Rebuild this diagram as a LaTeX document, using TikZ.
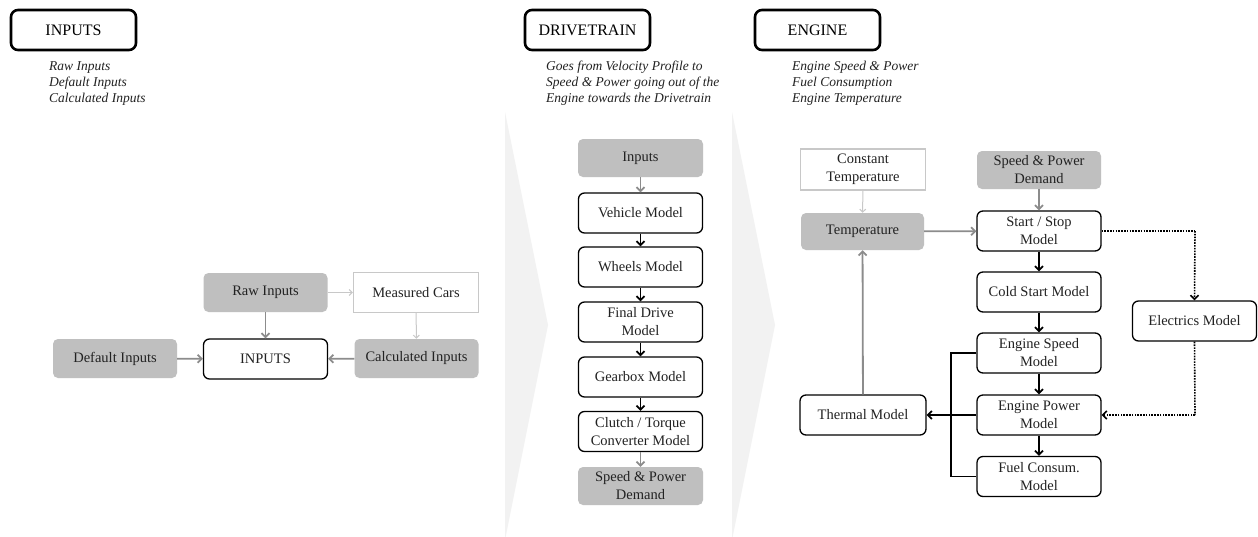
\documentclass[tikz,border=0pt]{standalone}
\usepackage{fontspec}
\setmainfont{Liberation Serif}
\usetikzlibrary{arrows.meta}
\definecolor{boxgrey}{HTML}{BFBFBF}
\definecolor{arrgrey}{HTML}{8C8C8C}
\definecolor{lightline}{HTML}{C8C8C8}
\definecolor{chev}{HTML}{F2F2F2}
\definecolor{txt}{HTML}{222222}
\begin{document}
\begin{tikzpicture}[x=1pt,y=-1pt,
  hdr/.style={draw=black,line width=2.6pt,rounded corners=7pt,minimum width=125pt,minimum height=40pt,inner sep=0pt,font=\fontsize{16}{18}\selectfont,text=black},
  note/.style={anchor=north west,inner sep=0pt,align=left,font=\fontsize{13.5}{16}\selectfont\itshape,text=txt},
  base/.style={minimum width=124pt,minimum height=39pt,inner sep=0pt,align=center,font=\fontsize{14.5}{18}\selectfont,text=txt},
  gbox/.style={base,fill=boxgrey,rounded corners=5pt},
  wbox/.style={base,draw=black,fill=white,line width=1.3pt,rounded corners=6pt,minimum height=40pt},
  lbox/.style={base,draw=lightline,fill=white,line width=1.2pt,minimum width=125pt,minimum height=40pt},
  garr/.style={draw=arrgrey,line width=1.8pt,-{Straight Barb[length=4pt,width=8pt]}},
  larr/.style={draw=lightline,line width=1pt,-{Straight Barb[length=3pt,width=6pt]}},
  barr/.style={draw=black,line width=1.8pt,-{Straight Barb[length=4pt,width=8pt]}},
  bline/.style={draw=black,line width=1.8pt},
  darr/.style={draw=black,line width=1.6pt,dash pattern=on 1.6pt off 1.2pt,-{Straight Barb[length=4pt,width=8pt]}},
  dline/.style={draw=black,line width=1.6pt,dash pattern=on 1.6pt off 1.2pt}
]
\useasboundingbox[fill=white] (0,0) rectangle (1258,536);
% chevrons
\fill[chev] (505,112) -- (548,325) -- (505,540) -- cycle;
\fill[chev] (732,112) -- (775,325) -- (732,540) -- cycle;

% headers
\node[hdr] (h1) at (73.5,30) {INPUTS};
\node[hdr] (h2) at (587.5,30) {DRIVETRAIN};
\node[hdr] (h3) at (817.5,30) {ENGINE};
\node[note] (n1) at (49,61) {Raw Inputs\\Default Inputs\\Calculated Inputs};
\node[note] (n2) at (546,61) {Goes from Velocity Profile to\\Speed \& Power going out of the\\Engine towards the Drivetrain};
\node[note] (n3) at (792,61) {Engine Speed \& Power\\Fuel Consumption\\Engine Temperature};

% inputs section
\node[gbox] (raw) at (265.5,292.5) {Raw Inputs};
\node[lbox] (meas) at (416,292.5) {Measured Cars};
\node[gbox] (def) at (115,358.5) {Default Inputs};
\node[wbox] (inp) at (265.5,359) {INPUTS};
\node[gbox] (calc) at (416.5,358.5) {Calculated Inputs};
\draw[larr] (raw) -- (meas);
\draw[larr] (meas) -- (calc);
\draw[garr] (raw) -- (inp);
\draw[garr] (def) -- (inp);
\draw[garr] (calc) -- (inp);

% drivetrain section
\node[gbox,minimum width=125pt,minimum height=38pt] (dIn) at (640.5,158) {Inputs};
\node[wbox] (veh) at (640.5,213) {Vehicle Model};
\node[wbox] (whl) at (640.5,267) {Wheels Model};
\node[wbox] (fd) at (640.5,322) {Final Drive\\Model};
\node[wbox] (gb) at (640.5,377) {Gearbox Model};
\node[wbox] (cl) at (640.5,431.5) {Clutch / Torque\\Converter Model};
\node[gbox,minimum width=125pt,minimum height=38pt] (dOut) at (640.5,486) {Speed \& Power\\Demand};
\draw[garr] (dIn) -- (veh);
\draw[barr] (veh) -- (whl);
\draw[barr] (whl) -- (fd);
\draw[barr] (fd) -- (gb);
\draw[barr] (gb) -- (cl);
\draw[garr] (cl) -- (dOut);

% engine section
\node[lbox,minimum height=41pt] (ct) at (863,169.5) {Constant\\Temperature};
\node[gbox,minimum height=38pt] (spd) at (1039,170) {Speed \& Power\\Demand};
\node[gbox,minimum width=123pt,minimum height=37pt] (temp) at (862.5,231.5) {Temperature};
\node[wbox] (ss) at (1039,231) {Start / Stop\\Model};
\node[wbox] (cs) at (1039,292) {Cold Start Model};
\node[wbox] (el) at (1194.5,321) {Electrics Model};
\node[wbox] (es) at (1039,353) {Engine Speed\\Model};
\node[wbox] (ep) at (1039,415) {Engine Power\\Model};
\node[wbox] (fc) at (1039,476.5) {Fuel Consum.\\Model};
\node[wbox,minimum width=126pt] (th) at (863,415) {Thermal Model};
\coordinate (bus) at (951,415);
\coordinate (d1) at (1195,231);
\coordinate (d2) at (1195,415);

\draw[larr] (ct) -- (temp);
\draw[garr] (spd) -- (ss);
\draw[garr] (temp) -- (ss);
\draw[garr] (th) -- (temp);
\draw[barr] (ss) -- (cs);
\draw[barr] (cs) -- (es);
\draw[barr] (es) -- (ep);
\draw[barr] (ep) -- (fc);
\draw[bline] (es.west) -| (bus) |- (fc.west);
\draw[barr] (ep) -- (th);
\draw[dline] (ss.east) -- (d1);
\draw[darr] (d1) -- (el.north);
\draw[dline] (el.south) -- (d2);
\draw[darr] (d2) -- (ep.east);
\end{tikzpicture}
\end{document}
